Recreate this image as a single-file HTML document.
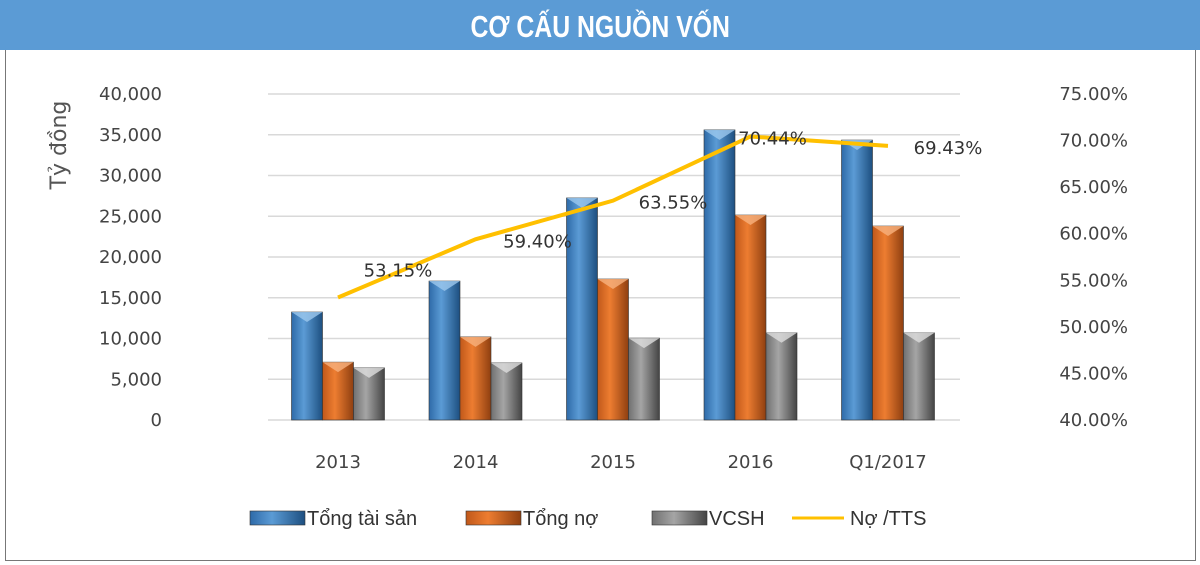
<!DOCTYPE html>
<html><head><meta charset="utf-8"><style>
body{margin:0;width:1200px;height:565px;background:#fff;overflow:hidden;font-family:"Liberation Sans",sans-serif}
#title{position:absolute;left:0;top:0;width:1200px;height:50px;background:#5b9bd5;color:#fff;font:bold 31px "Liberation Sans",sans-serif;text-align:center;line-height:54px}
#title span{display:inline-block;transform:scaleX(0.8)}
#frame{position:absolute;left:5px;top:50px;width:1189px;height:510px;border:1px solid #777;border-top:none}
</style></head><body>
<div id="title"><span>CƠ CẤU NGUỒN VỐN</span></div>
<div id="frame"></div>
<svg id="c" width="1200" height="565" style="position:absolute;left:0;top:0">
<defs>
<linearGradient id="gb" x1="0" x2="1"><stop offset="0" stop-color="#2e6aa8"/><stop offset=".4" stop-color="#5b9bd5"/><stop offset="1" stop-color="#1d4f80"/></linearGradient>
<linearGradient id="go" x1="0" x2="1"><stop offset="0" stop-color="#c0581a"/><stop offset=".4" stop-color="#ed7d31"/><stop offset="1" stop-color="#8f3f10"/></linearGradient>
<linearGradient id="gg" x1="0" x2="1"><stop offset="0" stop-color="#707070"/><stop offset=".4" stop-color="#a5a5a5"/><stop offset="1" stop-color="#444"/></linearGradient>
</defs>
</svg>
<script>
const categories=["2013","2014","2015","2016","Q1/2017"];
const tongTaiSan=[13250,17050,27250,35600,34350];
const tongNo=[7100,10200,17300,25150,23800];
const vcsh=[6400,7000,10050,10700,10700];
const noTts=[53.15,59.40,63.55,70.44,69.43];
const leftTicks=[0,5000,10000,15000,20000,25000,30000,35000,40000];
const rightTicks=[40,45,50,55,60,65,70,75];
const seriesNames=["Tổng tài sản","Tổng nợ","VCSH","Nợ /TTS"];
const svg=document.getElementById('c');const NS="http://www.w3.org/2000/svg";
function mk(t,a,p){const e=document.createElementNS(NS,t);for(const k in a)e.setAttribute(k,a[k]);(p||svg).appendChild(e);return e;}
const y0=420,yTop=94;
const yL=v=>y0-v/40000*(y0-yTop);
const yR=v=>y0-(v-40)/35*(y0-yTop);
const xC=i=>338+i*137.5;
const bw=31;
leftTicks.forEach(v=>{
 const g=mk('line',{x1:268,x2:960,y1:yL(v),y2:yL(v),stroke:'#d9d9d9','stroke-width':1.5});
 
 const t=mk('text',{x:162,y:yL(v)+6,'text-anchor':'end','font-size':18,fill:'#444','font-family':'DejaVu Sans'});
 t.textContent=v.toLocaleString('en-US');
 
});
rightTicks.forEach(v=>{
 const t=mk('text',{x:1128,y:yR(v)+6,'text-anchor':'end','font-size':18,fill:'#444','font-family':'DejaVu Sans'});
 t.textContent=v.toFixed(2)+'%';
 
});
const yt=mk('text',{x:0,y:0,transform:'translate(66,145) rotate(-90)','text-anchor':'middle','font-size':22,fill:'#555','font-family':'DejaVu Sans'});
yt.textContent='Tỷ đồng';

function bar(x,v,grad,light,name){
 const y=yL(v);
 const r=mk('rect',{x:x,y:y,width:bw,height:y0-y,fill:'url(#'+grad+')',stroke:'#333','stroke-width':0.6});
 
 const p=mk('polygon',{points:`${x},${y} ${x+bw},${y} ${x+bw/2},${y+10}`,fill:light,opacity:.8});
 
}
categories.forEach((c,i)=>{
 const cx=xC(i);
 bar(cx-bw*1.5,tongTaiSan[i],'gb','#9cc8ee','bar-tong-tai-san');
 bar(cx-bw*0.5,tongNo[i],'go','#f7b27e','bar-tong-no');
 bar(cx+bw*0.5,vcsh[i],'gg','#ddd','bar-vcsh');
 const t=mk('text',{x:cx,y:468,'text-anchor':'middle','font-size':18,fill:'#444','font-family':'DejaVu Sans'});
 t.textContent=c;
});
const pl=mk('polyline',{points:noTts.map((v,i)=>xC(i)+','+yR(v)).join(' '),fill:'none',stroke:'#ffc000','stroke-width':4});

const lblDx=[60,62,60,22,60];
const lblDy=[-21,8,8,8,8];
noTts.forEach((v,i)=>{
 const t=mk('text',{x:xC(i)+lblDx[i],y:yR(v)+lblDy[i],'text-anchor':'middle','font-size':18,fill:'#333','font-family':'DejaVu Sans'});
 t.textContent=v.toFixed(2)+'%';
 
});
const lx=[250,466,652,792];
seriesNames.forEach((n,i)=>{
 let m;
 if(i<3){m=mk('rect',{x:lx[i],y:511,width:55,height:14,fill:'url(#'+['gb','go','gg'][i]+')',stroke:'#333','stroke-width':0.6});}
 else{m=mk('line',{x1:lx[i],x2:lx[i]+52,y1:518,y2:518,stroke:'#ffc000','stroke-width':3});}
 
 const t=mk('text',{x:lx[i]+(i<3?57:58),y:525,'font-size':20,fill:'#333','font-family':'Liberation Sans Narrow, Liberation Sans'});
 t.textContent=n;
});
</script>
</body></html>
